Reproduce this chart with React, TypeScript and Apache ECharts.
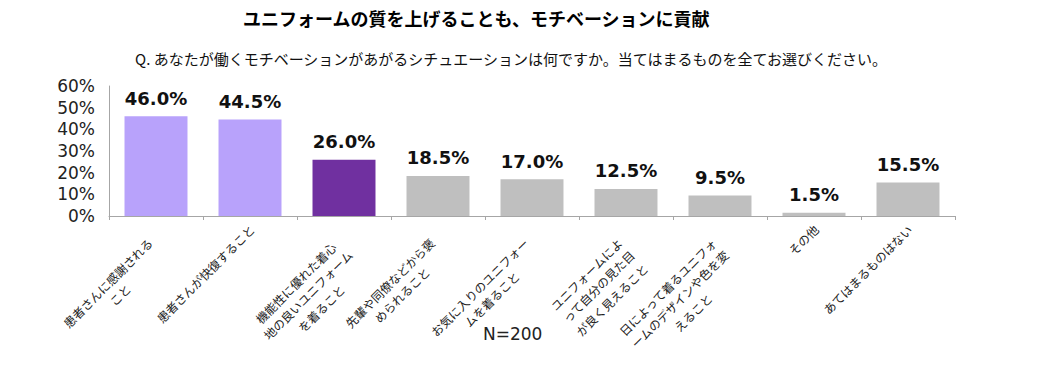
import React, { useEffect, useRef } from "react";
import * as echarts from "echarts";

const titleText = "ユニフォームの質を上げることも、モチベーションに貢献";
const subtitleText =
  "Q. あなたが働くモチベーションがあがるシチュエーションは何ですか。当てはまるものを全てお選びください。";
const noteText = "N=200";

const categories = [
  "患者さんに感謝される\nこと",
  "患者さんが快復すること",
  "機能性に優れた着心\n地の良いユニフォーム\nを着ること",
  "先輩や同僚などから褒\nめられること",
  "お気に入りのユニフォー\nムを着ること",
  "ユニフォームによ\nって自分の見た目\nが良く見えること",
  "日によって着るユニフォ\nームのデザインや色を変\nえること",
  "その他",
  "あてはまるものはない",
];
const values = [46.0, 44.5, 26.0, 18.5, 17.0, 12.5, 9.5, 1.5, 15.5];
const barColors = [
  "#b8a2fb",
  "#b8a2fb",
  "#7030a0",
  "#bfbfbf",
  "#bfbfbf",
  "#bfbfbf",
  "#bfbfbf",
  "#bfbfbf",
  "#bfbfbf",
];
const yMin = 0;
const yMax = 60;
const yInterval = 10;

const CJK = '"Noto Sans CJK JP", "Noto Sans", sans-serif';
const LATIN = '"DejaVu Sans", Verdana, sans-serif';

const catText = { align: "center", fontSize: 12, fontFamily: CJK, color: "#222222" };

export default function App() {
  const ref = useRef<HTMLDivElement>(null);

  useEffect(() => {
    document.body.style.margin = "0";
    if (!ref.current) return;
    const chart = echarts.init(ref.current, null, { renderer: "svg" });
    chart.setOption({
      animation: false,
      backgroundColor: "#ffffff",
      graphic: [
        {
          type: "text",
          left: 243,
          top: 9,
          style: { text: titleText, font: `bold 18px ${CJK}`, fill: "#000000" },
        },
        {
          type: "text",
          left: 135,
          top: 51,
          style: { text: subtitleText, font: `15px ${CJK}`, fill: "#111111" },
        },
        {
          type: "text",
          left: 483,
          top: 325,
          style: { text: noteText, font: `17px ${LATIN}`, fill: "#222222" },
        },
      ],
      grid: { left: 109, right: 108, top: 86, bottom: 154, containLabel: false },
      xAxis: {
        type: "category",
        data: categories,
        axisLine: { show: true, lineStyle: { color: "#a6a6a6", width: 1 } },
        axisTick: { show: true, length: 4, lineStyle: { color: "#a6a6a6" } },
        axisLabel: {
          interval: 0,
          rotate: 45,
          margin: 2,
          verticalAlign: "top",
          fontSize: 12,
          fontFamily: CJK,
          color: "#222222",
          lineHeight: 19,
          formatter: (v: string) => {
            const lines = v.split("\n");
            if (lines.length === 1) return `{s|${v}}`;
            return lines.map((l, i) => (i === 0 ? `{m1|${l}}` : `{m|${l}}`)).join("\n");
          },
          rich: {
            s: { ...catText, lineHeight: 15, padding: [0, 5, 0, 0] },
            m1: { ...catText, lineHeight: 19, padding: [4, 20, 0, 0] },
            m: { ...catText, lineHeight: 19, padding: [0, 20, 0, 0] },
          },
        },
      },
      yAxis: {
        type: "value",
        min: yMin,
        max: yMax,
        interval: yInterval,
        axisLine: { show: true, lineStyle: { color: "#a6a6a6", width: 1 } },
        axisTick: { show: false },
        splitLine: { show: false },
        axisLabel: {
          formatter: "{value}%",
          fontSize: 17,
          fontFamily: LATIN,
          color: "#222222",
          margin: 14,
        },
      },
      series: [
        {
          type: "bar",
          barCategoryGap: "33%",
          data: values.map((v, i) => ({ value: v, itemStyle: { color: barColors[i] } })),
          label: {
            show: true,
            position: "top",
            distance: 9,
            formatter: (p: any) => `${Number(p.value).toFixed(1)}%`,
            fontSize: 18,
            fontWeight: "bold",
            fontFamily: LATIN,
            color: "#111111",
          },
        },
      ],
    });
    return () => chart.dispose();
  }, []);

  return <div ref={ref} style={{ width: 1063, height: 370 }} />;
}
